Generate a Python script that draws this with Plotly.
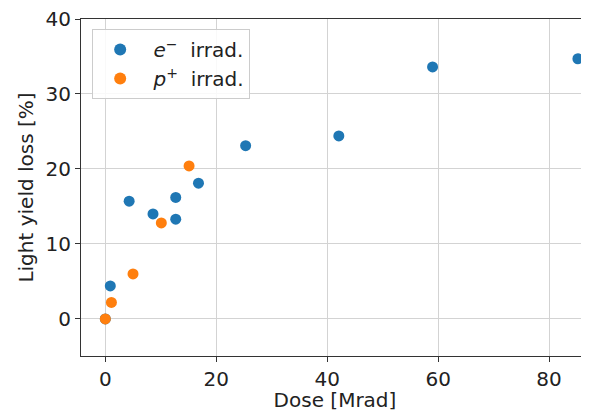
import plotly.graph_objects as go

# Data
e_dose = [0.0, 0.9, 4.3, 8.6, 12.7, 12.7, 16.8, 25.3, 42.1, 59.0, 85.2]
e_loss = [0.0, 4.4, 15.7, 14.0, 16.2, 13.3, 18.1, 23.1, 24.4, 33.6, 34.7]
p_dose = [0.0, 1.1, 5.0, 10.1, 15.1]
p_loss = [0.0, 2.2, 6.0, 12.8, 20.4]

x_ticks = [0, 20, 40, 60, 80]
y_ticks = [0, 10, 20, 30, 40]

FONT = "DejaVu Sans"
FS = 20
fig = go.Figure()
fig.add_trace(go.Scatter(x=e_dose, y=e_loss, mode="markers",
                         name=" <i>e</i><sup>−</sup>  irrad.",
                         marker=dict(color="#1f77b4", size=11, line=dict(width=0))))
fig.add_trace(go.Scatter(x=p_dose, y=p_loss, mode="markers",
                         name=" <i>p</i><sup>+</sup>  irrad.",
                         marker=dict(color="#ff7f0e", size=11, line=dict(width=0))))

axis_common = dict(showgrid=True, gridcolor="#d3d3d3", gridwidth=1,
                   showline=True, linecolor="#333333", linewidth=1.2,
                   ticks="outside", ticklen=5, tickcolor="#333333",
                   zeroline=False, automargin=False, ticklabeloverflow="allow",
                   tickfont=dict(size=FS, color="#222"))
fig.update_xaxes(range=[-4.38, 87.2], tickvals=x_ticks, mirror=True,
                 title=dict(text="Dose [Mrad]", font=dict(size=FS, color="#222"), standoff=5),
                 **axis_common)
fig.update_yaxes(range=[-4.95, 40], tickvals=y_ticks,
                 title=dict(text="Light yield loss [%]", font=dict(size=FS, color="#222"), standoff=6),
                 **axis_common)

# the page body has an 8px margin, so the figure is offset by 8px
fig.update_layout(
    width=581, height=404,
    margin=dict(l=73, r=0, t=11, b=56),
    plot_bgcolor="white", paper_bgcolor="white",
    font=dict(family=FONT, size=FS, color="#222"),
    legend=dict(x=0.022, y=0.97, xanchor="left", yanchor="top",
                bgcolor="rgba(255,255,255,0.85)", bordercolor="#cccccc", borderwidth=1,
                font=dict(size=FS), itemsizing="constant", itemwidth=44),
)
fig.write_html("out.html")
